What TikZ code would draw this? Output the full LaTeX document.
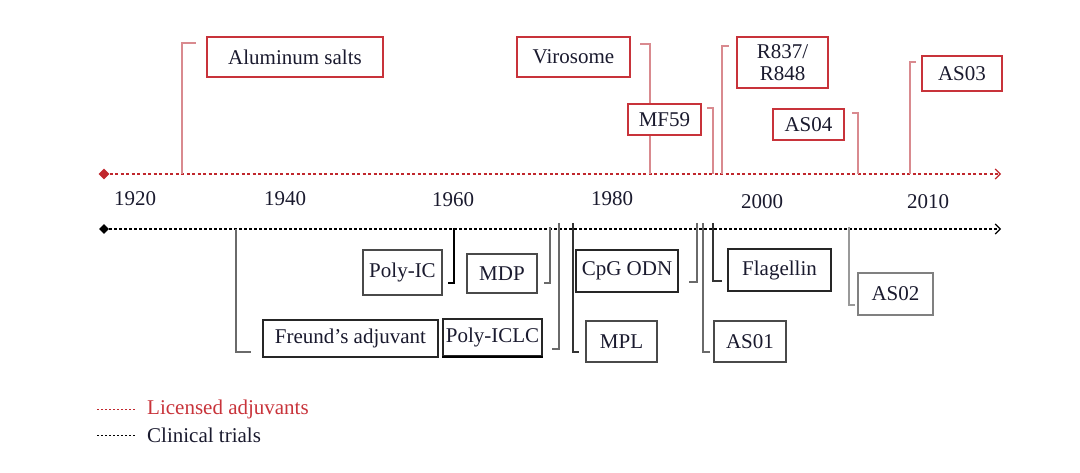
\documentclass[tikz,border=0pt]{standalone}
\usepackage{fontspec}
\setmainfont{Liberation Serif}
\usetikzlibrary{arrows.meta,shapes.geometric}
\definecolor{axred}{HTML}{C0272D}
\definecolor{boxred}{HTML}{C8333A}
\definecolor{conred}{HTML}{D98A8F}
\definecolor{txt}{HTML}{1A1A2E}
\definecolor{boxgray}{HTML}{4A4A4A}
\definecolor{congray}{HTML}{6A6A6A}
\tikzset{
  lbl/.style={font=\fontsize{21}{22}\selectfont, text=txt, inner sep=0pt},
  rbox/.style={lbl, draw=boxred, line width=1.1pt, fill=white, align=center},
  kbox/.style={lbl, draw=boxgray, line width=1.1pt, fill=white, align=center},
  rcon/.style={draw=conred, line width=1.4pt},
  kcon/.style={draw=congray, line width=1.2pt},
  redaxis/.style={draw=axred, line width=1.3pt, dash pattern=on 3pt off 2.5pt},
  blkaxis/.style={draw=black, line width=1.1pt, dash pattern=on 2.5pt off 2.5pt},
  startmark/.style={diamond, inner sep=0pt, minimum size=11pt},
}
\begin{document}
\begin{tikzpicture}[x=1pt,y=-1pt]
\useasboundingbox (0,0) rectangle (1080,473);

% axes
\node[startmark, fill=axred] (rs) at (104,174) {};
\coordinate (re) at (1001,174);
\node[startmark, fill=black, minimum size=10pt] (ks) at (104,229) {};
\coordinate (ke) at (1001,229);
\draw[redaxis, -{Straight Barb[length=5pt,width=10pt,line width=1.2pt]}] (rs) -- (re);
\draw[blkaxis, -{Straight Barb[length=5pt,width=10pt,line width=1.1pt]}] (ks) -- (ke);

% years
\node[lbl] (y1920) at (135,199) {1920};
\node[lbl] (y1940) at (285,199) {1940};
\node[lbl] (y1960) at (453,200) {1960};
\node[lbl] (y1980) at (612,199) {1980};
\node[lbl] (y2000) at (762,202) {2000};
\node[lbl] (y2010) at (928,202) {2010};

% red connectors (licensed)
\coordinate (ala) at (182,174); \coordinate (alt) at (196,43);
\draw[rcon] (ala) |- (alt);
\coordinate (vira) at (650,174); \coordinate (virt) at (640,44);
\draw[rcon] (virt) -| (vira);
\coordinate (mfa) at (713,174); \coordinate (mft) at (707,108);
\draw[rcon] (mft) -| (mfa);
\coordinate (ra) at (722,174); \coordinate (rt) at (729,46);
\draw[rcon] (ra) |- (rt);
\coordinate (as4a) at (858,174); \coordinate (as4t) at (852,113);
\draw[rcon] (as4t) -| (as4a);
\coordinate (as3a) at (910,174); \coordinate (as3t) at (916,62);
\draw[rcon] (as3a) |- (as3t);

% red boxes
\node[rbox, minimum width=176pt, minimum height=40pt] (al) at (295,57) {Aluminum salts};
\node[rbox, minimum width=113pt, minimum height=40pt] (vir) at (573.5,57) {Virosome};
\node[rbox, minimum width=73pt, minimum height=31pt] (mf) at (664.5,119.5) {MF59};
\node[rbox, minimum width=91pt, minimum height=51pt] (r8) at (782.5,62.5) {R837/\\R848};
\node[rbox, minimum width=71pt, minimum height=31pt] (as4) at (808.5,124.5) {AS04};
\node[rbox, minimum width=80pt, minimum height=35pt] (as3) at (962,73.5) {AS03};

% black connectors (clinical trials)
\coordinate (fra) at (236,229); \coordinate (frb) at (251,352);
\draw[kcon] (fra) |- (frb);
\coordinate (pia) at (454,228); \coordinate (pib) at (448,283);
\draw[kcon, line width=1.5pt, draw=black] (pia) |- (pib);
\coordinate (mda) at (550,227); \coordinate (mdb) at (544,283);
\draw[kcon] (mda) |- (mdb);
\coordinate (pla) at (559,223); \coordinate (plb) at (552,349);
\draw[kcon] (pla) |- (plb);
\coordinate (mpa) at (573,223); \coordinate (mpb) at (579,352);
\draw[kcon, draw=black!80] (mpa) |- (mpb);
\coordinate (cpa) at (697,223); \coordinate (cpb) at (689,282);
\draw[kcon] (cpa) |- (cpb);
\coordinate (a1a) at (703,223); \coordinate (a1b) at (710,352);
\draw[kcon] (a1a) |- (a1b);
\coordinate (fla) at (713,223); \coordinate (flb) at (722,281);
\draw[kcon, draw=black!80] (fla) |- (flb);
\coordinate (a2a) at (849,227); \coordinate (a2b) at (855,305);
\draw[kcon, line width=1.6pt, draw=gray!80] (a2a) |- (a2b);

% black boxes
\node[kbox, draw=black!85, minimum width=175pt, minimum height=37pt] (fr) at (350.5,338.5) {Freund’s adjuvant};
\node[kbox, minimum width=79pt, minimum height=45pt] (pic) at (402.5,272.5) {Poly-IC};
\node[kbox, minimum width=70pt, minimum height=39pt] (mdp) at (502,273.5) {MDP};
\node[kbox, draw=black!85, minimum width=99pt, minimum height=37pt] (picl) at (492.5,337.5) {Poly-ICLC};
\draw[black, line width=2pt] (picl.south west) -- (picl.south east);
\node[kbox, draw=black!85, minimum width=102pt, minimum height=42pt] (cpg) at (627,271) {CpG ODN};
\node[kbox, minimum width=71pt, minimum height=41pt] (mpl) at (621.5,341.5) {MPL};
\node[kbox, minimum width=72pt, minimum height=41pt] (as1) at (750,341.5) {AS01};
\node[kbox, draw=black!85, minimum width=103pt, minimum height=42pt] (flag) at (779.5,270) {Flagellin};
\node[kbox, draw=gray, minimum width=75pt, minimum height=42pt] (as2) at (895.5,294) {AS02};

% legend
\coordinate (l1a) at (97,409); \coordinate (l1b) at (135,409);
\draw[axred, line width=1pt, dash pattern=on 1.5pt off 2.5pt] (l1a) -- (l1b);
\node[lbl, text=boxred, anchor=west] (l1) at (147,409) {Licensed adjuvants};
\coordinate (l2a) at (97,435); \coordinate (l2b) at (135,435);
\draw[black, line width=1pt, dash pattern=on 1.5pt off 2.5pt] (l2a) -- (l2b);
\node[lbl, anchor=west] (l2) at (147,435) {Clinical trials};
\end{tikzpicture}
\end{document}
